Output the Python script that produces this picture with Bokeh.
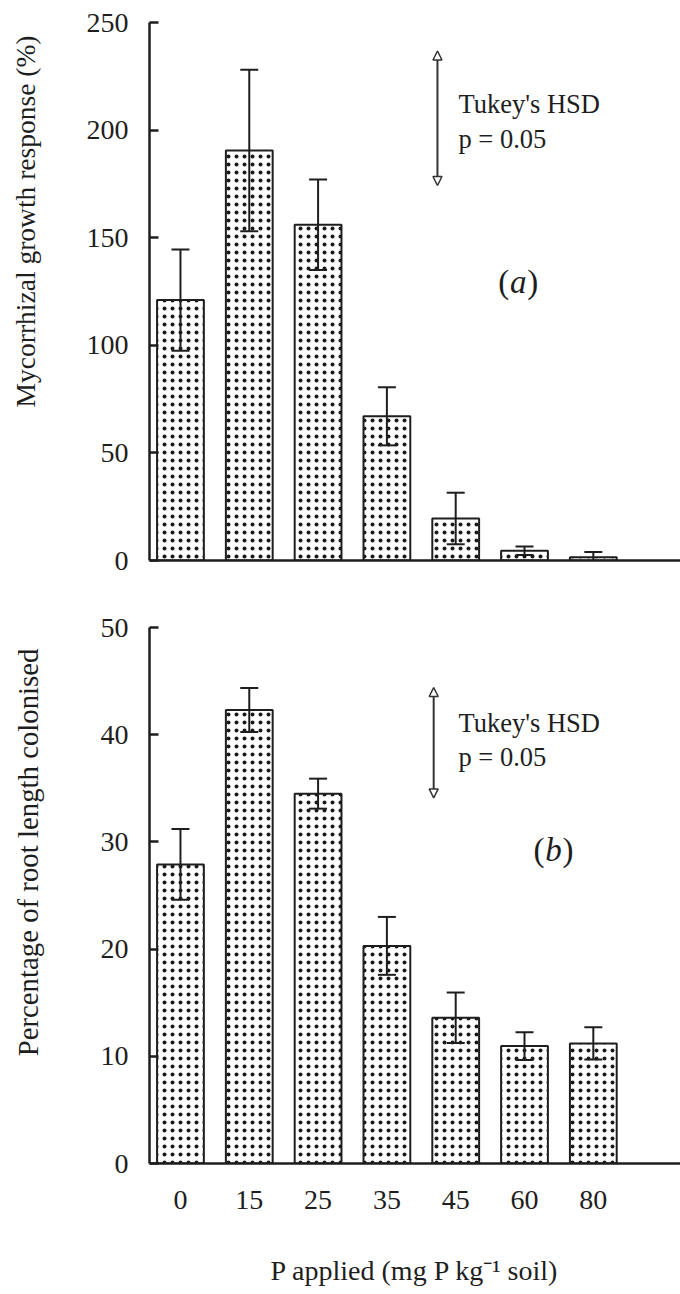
from bokeh.plotting import figure
from bokeh.layouts import column
from bokeh.models import (Range1d, FixedTicker, Whisker, TeeHead, Arrow, NormalHead,
                          Label, Title, ColumnDataSource)
from bokeh.embed import file_html
from bokeh.resources import INLINE

# P application rates (mg P kg-1 soil)
p_levels = ["0", "15", "25", "35", "45", "60", "80"]

# (a) mycorrhizal growth response (%) with error bars
growth_mean = [121, 190.5, 156, 67, 19.5, 4.5, 1.5]
growth_err = [23.5, 37.5, 21, 13.5, 12, 2, 2.5]
growth_hsd = 62.5
growth_hsd_mid = 205.5

# (b) percentage of root length colonised with error bars
colon_mean = [27.9, 42.3, 34.5, 20.3, 13.6, 10.95, 11.2]
colon_err = [3.3, 2.05, 1.4, 2.7, 2.35, 1.3, 1.5]
colon_hsd = 10.3
colon_hsd_mid = 39.25

FONT = "Liberation Serif"
INK = "#1e1e1e"
xs = list(range(len(p_levels)))
X_RANGE = (-0.45, 7.267)
BAR_W = 0.68


def make_source(mean, err):
    return ColumnDataSource(dict(
        x=xs, top=mean,
        upper=[m + e for m, e in zip(mean, err)],
        lower=[m - e for m, e in zip(mean, err)],
    ))


def base_figure(frame_h, y_end, border_top, border_bottom):
    p = figure(frame_width=531, frame_height=frame_h,
               x_range=Range1d(*X_RANGE), y_range=Range1d(0, y_end),
               min_border_left=149, min_border_right=0,
               min_border_top=border_top, min_border_bottom=border_bottom,
               toolbar_location=None, output_backend="svg")
    p.outline_line_color = None
    p.grid.visible = False
    p.background_fill_color = "white"
    p.border_fill_color = "white"
    for ax in (p.xaxis[0], p.yaxis[0]):
        ax.axis_line_width = 2.5
        ax.axis_line_color = INK
        ax.major_tick_line_width = 2.5
        ax.major_tick_line_color = INK
        ax.minor_tick_line_color = None
        ax.major_label_text_font = FONT
        ax.major_label_text_font_size = "28px"
        ax.major_label_text_color = INK
        ax.axis_label_text_font = FONT
        ax.axis_label_text_font_size = "28px"
        ax.axis_label_text_font_style = "normal"
        ax.axis_label_text_color = INK
    p.yaxis.major_tick_in = 9
    p.yaxis.major_tick_out = 0
    p.yaxis.major_label_standoff = 21
    p.xaxis.major_tick_line_color = None
    return p


def y_title(p, text, size, offset, gap):
    # vertical title in the left margin, anchored near the top of the frame;
    # an empty axis label of width `gap` pushes it away from the tick labels
    p.yaxis.axis_label = " "
    p.yaxis.axis_label_text_font_size = "1px"
    p.yaxis.axis_label_standoff = gap
    p.add_layout(Title(text=text, align="right", offset=offset, standoff=0,
                       vertical_align="top",
                       text_font=FONT, text_font_size=size, text_font_style="normal",
                       text_color=INK), "left")


def draw_bars(p, src):
    p.vbar(x="x", top="top", width=BAR_W, bottom=0, source=src,
           fill_color="white", line_color=INK, line_width=2,
           hatch_pattern="dot", hatch_scale=8, hatch_weight=1.2,
           hatch_color="#1a1a1a")
    p.add_layout(Whisker(base="x", upper="upper", lower="lower", source=src,
                         level="annotation", line_width=2, line_color=INK,
                         upper_head=TeeHead(size=18, line_width=2, line_color=INK),
                         lower_head=TeeHead(size=18, line_width=2, line_color=INK)))


def draw_hsd(p, x_arrow, mid, hsd, x_text, y1, y2):
    half = hsd / 2
    p.add_layout(Arrow(x_start=x_arrow, y_start=mid - half, x_end=x_arrow, y_end=mid + half,
                       line_width=2, line_color="#333333",
                       start=NormalHead(size=9, fill_color="white", line_width=1.5, line_color="#333333"),
                       end=NormalHead(size=9, fill_color="white", line_width=1.5, line_color="#333333")))
    for txt, yy in (("Tukey's HSD", y1), ("p = 0.05", y2)):
        p.add_layout(Label(x=x_text, y=yy, text=txt, text_font=FONT, text_font_size="26.5px",
                           text_color=INK, text_align="left", text_baseline="middle"))


def draw_panel_tag(p, x, y, letter):
    p.add_layout(Label(x=x, y=y, x_offset=-9, text="(", text_font=FONT, text_font_size="33px",
                       text_color=INK, text_align="right", text_baseline="middle"))
    p.add_layout(Label(x=x, y=y, text=letter, text_font=FONT, text_font_size="33px",
                       text_font_style="italic", text_color=INK,
                       text_align="center", text_baseline="middle"))
    p.add_layout(Label(x=x, y=y, x_offset=9, text=")", text_font=FONT, text_font_size="33px",
                       text_color=INK, text_align="left", text_baseline="middle"))


# ---- panel (a)
p1 = base_figure(538, 250, 22, 30)
p1.yaxis.ticker = FixedTicker(ticks=[0, 50, 100, 150, 200, 250])
y_title(p1, "Mycorrhizal growth response (%)", "27.5px", 13, 37)
p1.xaxis.ticker = FixedTicker(ticks=[])
p1.xaxis.major_label_text_font_size = "0px"
p1.xaxis.major_label_standoff = 0
draw_bars(p1, make_source(growth_mean, growth_err))
draw_hsd(p1, 3.735, growth_hsd_mid, growth_hsd, 4.04, 212.3, 196.0)
draw_panel_tag(p1, 4.91, 129.5, "a")

# ---- panel (b)
p2 = base_figure(536, 50, 37, 131)
p2.yaxis.ticker = FixedTicker(ticks=[0, 10, 20, 30, 40, 50])
y_title(p2, "Percentage of root length colonised", "28.8px", 21, 48)
p2.xaxis.ticker = FixedTicker(ticks=xs)
p2.xaxis.major_label_overrides = {i: lab for i, lab in zip(xs, p_levels)}
p2.xaxis.major_label_standoff = 21
p2.xaxis.axis_label = "P applied (mg P kg\u207b\u00b9 soil)"
p2.xaxis.axis_label_text_font_size = "28px"
p2.xaxis.axis_label_standoff = 43
draw_bars(p2, make_source(colon_mean, colon_err))
draw_hsd(p2, 3.68, colon_hsd_mid, colon_hsd, 4.04, 41.1, 37.9)
draw_panel_tag(p2, 5.42, 29.2, "b")

layout = column(p1, p2, spacing=0)
open("out.html", "w").write(file_html(layout, INLINE))
